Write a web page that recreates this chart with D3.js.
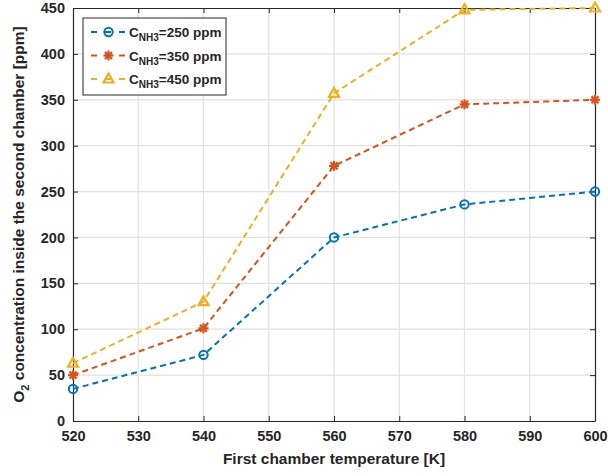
<!DOCTYPE html>
<html>
<head>
<meta charset="utf-8">
<script src="https://cdn.jsdelivr.net/npm/d3@7"></script>
<style>
  body { margin: 0; background: #fff; }
  svg text { font-family: "Liberation Sans", Arial, sans-serif; font-weight: bold; fill: #262626; }
</style>
</head>
<body>
<div id="container"></div>
<script>
const temps = [520, 540, 560, 580, 600];
const c250 = [35, 72, 200, 236, 250];
const c350 = [50, 101, 278, 345, 350];
const c450 = [63, 130, 357, 448, 450];
const xTicks = [520, 530, 540, 550, 560, 570, 580, 590, 600];
const yTicks = [0, 50, 100, 150, 200, 250, 300, 350, 400, 450];

const series = [
  {name: "250", values: c250, color: "#0072BD", marker: "circle"},
  {name: "350", values: c350, color: "#D95319", marker: "star"},
  {name: "450", values: c450, color: "#EDB120", marker: "triangle"}
];

const W = 608, H = 476;
const margin = {top: 8, right: 13, bottom: 55, left: 73};
const width = W - margin.left - margin.right;
const height = H - margin.top - margin.bottom;

const svg = d3.select("#container").append("svg")
  .attr("width", W).attr("height", H);
const g = svg.append("g").attr("transform", "translate(" + margin.left + "," + margin.top + ")");

const xScale = d3.scaleLinear().domain([520, 600]).range([0, width]);
const yScale = d3.scaleLinear().domain([0, 450]).range([height, 0]);

// grid
g.append("g").selectAll("line").data(xTicks.slice(1, -1)).enter().append("line")
  .attr("x1", d => xScale(d)).attr("x2", d => xScale(d))
  .attr("y1", 0).attr("y2", height)
  .attr("stroke", "#e1e1e1").attr("stroke-width", 1.2);
g.append("g").selectAll("line").data(yTicks.slice(1, -1)).enter().append("line")
  .attr("y1", d => yScale(d)).attr("y2", d => yScale(d))
  .attr("x1", 0).attr("x2", width)
  .attr("stroke", "#e1e1e1").attr("stroke-width", 1.2);

// axes
g.append("g").attr("transform", "translate(0," + height + ")")
  .call(d3.axisBottom(xScale).tickValues(xTicks).tickSizeInner(-5).tickSizeOuter(0).tickPadding(10));
g.append("g")
  .call(d3.axisLeft(yScale).tickValues(yTicks).tickSizeInner(-5).tickSizeOuter(0).tickPadding(8));
g.append("g")
  .call(d3.axisTop(xScale).tickValues(xTicks).tickSizeInner(-5).tickSizeOuter(0).tickFormat(""));
g.append("g").attr("transform", "translate(" + width + ",0)")
  .call(d3.axisRight(yScale).tickValues(yTicks).tickSizeInner(-5).tickSizeOuter(0).tickFormat(""));
g.selectAll(".domain").attr("stroke", "#262626").attr("stroke-width", 1.2);
g.selectAll(".tick line").attr("stroke", "#262626");
g.selectAll(".tick text").style("font-size", "14.5px").style("font-family", "Liberation Sans, Arial, sans-serif").style("font-weight", "bold").attr("fill", "#262626");

// markers
function drawMarker(sel, type, color) {
  if (type === "circle") {
    sel.append("circle").attr("r", 4.2).attr("fill", "none").attr("stroke", color).attr("stroke-width", 2);
  } else if (type === "star") {
    const r = 5;
    [0, 45, 90, 135].forEach(a => {
      const rad = a * Math.PI / 180;
      sel.append("line")
        .attr("x1", -r * Math.cos(rad)).attr("y1", -r * Math.sin(rad))
        .attr("x2", r * Math.cos(rad)).attr("y2", r * Math.sin(rad))
        .attr("stroke", color).attr("stroke-width", 2.2);
    });
  } else {
    sel.append("path").attr("d", "M0,-5.5L5,3.5L-5,3.5Z")
      .attr("fill", "none").attr("stroke", color).attr("stroke-width", 2.2)
      .attr("stroke-linejoin", "miter");
  }
}

const line = d3.line().x((d, i) => xScale(temps[i])).y(d => yScale(d));

series.forEach(s => {
  g.append("path").datum(s.values)
    .attr("d", line).attr("fill", "none")
    .attr("stroke", s.color).attr("stroke-width", 2)
    .attr("stroke-dasharray", "6,4");
  s.values.forEach((v, i) => {
    const m = g.append("g").attr("transform", "translate(" + xScale(temps[i]) + "," + yScale(v) + ")");
    drawMarker(m, s.marker, s.color);
  });
});

// legend
const lg = svg.append("g").attr("transform", "translate(83,18)");
lg.append("rect").attr("width", 143).attr("height", 77)
  .attr("fill", "#fff").attr("stroke", "#262626").attr("stroke-width", 1);
series.forEach((s, i) => {
  const y = 14 + i * 23.5;
  lg.append("line").attr("x1", 8).attr("x2", 43).attr("y1", y).attr("y2", y)
    .attr("stroke", s.color).attr("stroke-width", 2).attr("stroke-dasharray", "6,8");
  const m = lg.append("g").attr("transform", "translate(25.5," + y + ")");
  drawMarker(m, s.marker, s.color);
  const t = lg.append("text").attr("x", 46).attr("y", y + 5).style("font-size", "13.5px");
  t.append("tspan").text("C");
  t.append("tspan").attr("dy", 4).style("font-size", "10px").text("NH3");
  t.append("tspan").attr("dy", -4).text("=" + s.name + " ppm");
});

// labels
svg.append("text")
  .attr("x", margin.left + width / 2).attr("y", 464)
  .attr("text-anchor", "middle").style("font-size", "15.5px")
  .text("First chamber temperature [K]");

const yl = svg.append("text")
  .attr("transform", "translate(24," + (margin.top + height / 2) + ") rotate(-90)")
  .attr("text-anchor", "middle").style("font-size", "15.5px");
yl.append("tspan").text("O");
yl.append("tspan").attr("dy", 5).style("font-size", "11px").text("2");
yl.append("tspan").attr("dy", -5).text(" concentration inside the second chamber [ppm]");
</script>
</body>
</html>
